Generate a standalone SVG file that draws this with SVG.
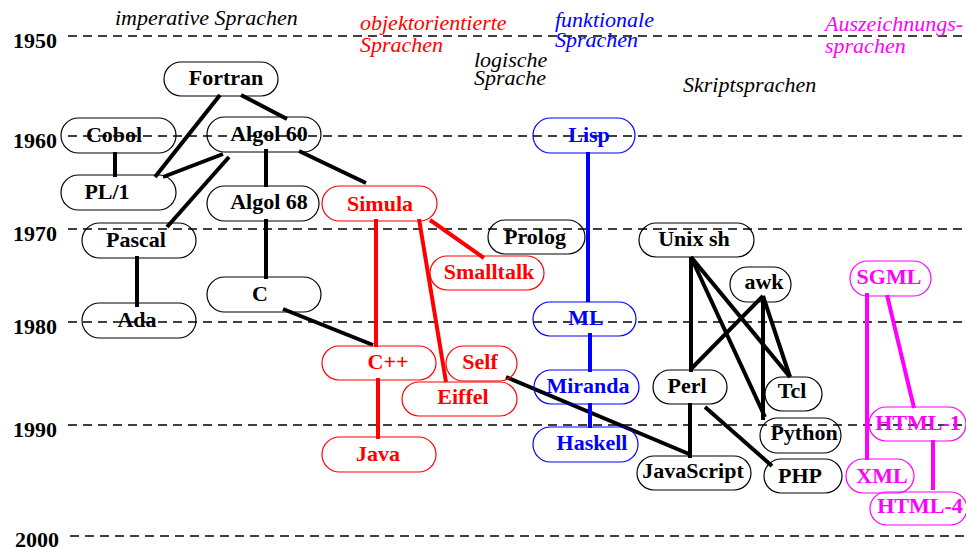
<svg xmlns="http://www.w3.org/2000/svg" width="966" height="548" viewBox="0 0 966 548">
<style>
.grid line{stroke:#000;stroke-width:1.3;stroke-dasharray:9 6}
.yr{font:bold 22px "Liberation Serif",serif;fill:#000}
.hd{font:italic 22px "Liberation Serif",serif}
.n rect{fill:none;stroke-width:1.2}
.n text{font:bold 22px "Liberation Serif",serif;text-anchor:middle}
.k rect{stroke:#000}.k text{fill:#000}
.r rect{stroke:#f00}.r text{fill:#f00}
.b rect{stroke:#00f}.b text{fill:#00f}
.m rect{stroke:#f0f}.m text{fill:#f0f}
.c line{stroke-width:4}
.ck line{stroke:#000}.cr line{stroke:#f00}.cb line{stroke:#00f}.cm line{stroke:#f0f}
</style>
<rect width="966" height="548" fill="#fff"/>
<g class="grid">
<line x1="68" y1="36" x2="966" y2="36"/>
<line x1="68" y1="136" x2="966" y2="136"/>
<line x1="68" y1="229" x2="966" y2="229"/>
<line x1="68" y1="322" x2="966" y2="322"/>
<line x1="68" y1="425" x2="966" y2="425"/>
<line x1="70" y1="536" x2="966" y2="536"/>
</g>
<g id="years">
<text class="yr" x="13" y="48">1950</text>
<text class="yr" x="13" y="148">1960</text>
<text class="yr" x="13" y="241">1970</text>
<text class="yr" x="13" y="334">1980</text>
<text class="yr" x="13" y="437">1990</text>
<text class="yr" x="15" y="547">2000</text>
</g>
<g id="headings">
<text class="hd" x="115" y="25" fill="#000">imperative Sprachen</text>
<text class="hd" x="360" y="30" fill="#f00">objektorientierte</text>
<text class="hd" x="360" y="52" fill="#f00">Sprachen</text>
<text class="hd" x="474" y="67" fill="#000">logische</text>
<text class="hd" x="474" y="85" fill="#000">Sprache</text>
<text class="hd" x="555" y="27" fill="#00f">funktionale</text>
<text class="hd" x="555" y="47" fill="#00f">Sprachen</text>
<text class="hd" x="683" y="92" fill="#000">Skriptsprachen</text>
<text class="hd" x="825" y="31" fill="#f0f">Auszeichnungs-</text>
<text class="hd" x="825" y="53" fill="#f0f">sprachen</text>
</g>
<g id="connectors" class="c">
<g class="ck">
<line x1="220" y1="95" x2="155" y2="177"/>
<line x1="241" y1="95" x2="287" y2="119"/>
<line x1="115" y1="152" x2="115" y2="177"/>
<line x1="223" y1="154" x2="163" y2="177"/>
<line x1="229" y1="157" x2="167" y2="227"/>
<line x1="266" y1="149" x2="266" y2="187"/>
<line x1="299" y1="151" x2="366" y2="183"/>
<line x1="266" y1="219" x2="266" y2="279"/>
<line x1="137" y1="256" x2="137" y2="307"/>
<line x1="283" y1="309" x2="373" y2="345"/>
<line x1="506" y1="377" x2="689" y2="454"/>
<line x1="691" y1="257" x2="691" y2="372"/>
<line x1="691" y1="257" x2="790" y2="377"/>
<line x1="691" y1="257" x2="765" y2="417"/>
<line x1="763" y1="296" x2="691" y2="369"/>
<line x1="763" y1="296" x2="790" y2="377"/>
<line x1="763" y1="296" x2="763" y2="420"/>
<line x1="690" y1="403" x2="690" y2="458"/>
<line x1="705" y1="407" x2="772" y2="466"/>
</g>
<g class="cr">
<line x1="376" y1="219" x2="376" y2="347"/>
<line x1="378" y1="378" x2="378" y2="439"/>
<line x1="419" y1="219" x2="446" y2="382"/>
<line x1="430" y1="220" x2="484" y2="258"/>
</g>
<g class="cb">
<line x1="588" y1="152" x2="588" y2="302"/>
<line x1="590" y1="333" x2="590" y2="372"/>
<line x1="590" y1="403" x2="590" y2="428"/>
</g>
<g class="cm">
<line x1="867" y1="293" x2="867" y2="460"/>
<line x1="887" y1="295" x2="914" y2="408"/>
<line x1="933" y1="440" x2="933" y2="490"/>
</g>
</g>
<g id="fortran" class="n k"><rect x="164" y="62" width="114" height="34" rx="17"/><text x="226" y="85">Fortran</text></g>
<g id="cobol" class="n k"><rect x="61" y="118" width="115" height="35" rx="17.5"/><text x="114" y="142">Cobol</text></g>
<g id="algol60" class="n k"><rect x="207" y="117" width="114" height="35" rx="17.5"/><text x="269" y="141">Algol 60</text></g>
<g id="pl1" class="n k"><rect x="61" y="175" width="115" height="35" rx="17.5"/><text x="107" y="199">PL/1</text></g>
<g id="algol68" class="n k"><rect x="207" y="186" width="112" height="35" rx="17.5"/><text x="269" y="209">Algol 68</text></g>
<g id="pascal" class="n k"><rect x="82" y="223" width="114" height="35" rx="17.5"/><text x="136" y="247">Pascal</text></g>
<g id="c" class="n k"><rect x="207" y="277" width="114" height="35" rx="17.5"/><text x="260" y="301">C</text></g>
<g id="ada" class="n k"><rect x="82" y="303" width="114" height="35" rx="17.5"/><text x="137" y="327">Ada</text></g>
<g id="simula" class="n r"><rect x="322" y="186" width="115" height="35" rx="17.5"/><text x="380" y="211">Simula</text></g>
<g id="smalltalk" class="n r"><rect x="430" y="256" width="114" height="34" rx="17"/><text x="489" y="279">Smalltalk</text></g>
<g id="cpp" class="n r"><rect x="322" y="346" width="114" height="34" rx="17"/><text x="388" y="369">C++</text></g>
<g id="self" class="n r"><rect x="446" y="346" width="71" height="35" rx="17.5"/><text x="480" y="369">Self</text></g>
<g id="eiffel" class="n r"><rect x="402" y="382" width="115" height="34" rx="17"/><text x="463" y="404">Eiffel</text></g>
<g id="java" class="n r"><rect x="322" y="437" width="114" height="35" rx="17.5"/><text x="378" y="461">Java</text></g>
<g id="prolog" class="n k"><rect x="488" y="220" width="97" height="34" rx="17"/><text x="535" y="244">Prolog</text></g>
<g id="lisp" class="n b"><rect x="533" y="118" width="102" height="35" rx="17.5"/><text x="589" y="142">Lisp</text></g>
<g id="ml" class="n b"><rect x="533" y="302" width="103" height="34" rx="17"/><text x="586" y="325">ML</text></g>
<g id="miranda" class="n b"><rect x="534" y="370" width="105" height="34" rx="17"/><text x="588" y="393">Miranda</text></g>
<g id="haskell" class="n b"><rect x="533" y="427" width="105" height="35" rx="17.5"/><text x="592" y="450">Haskell</text></g>
<g id="unixsh" class="n k"><rect x="639" y="223" width="115" height="34" rx="17"/><text x="694" y="246">Unix sh</text></g>
<g id="awk" class="n k"><rect x="730" y="267" width="61" height="35" rx="17.5"/><text x="764" y="289">awk</text></g>
<g id="perl" class="n k"><rect x="653" y="370" width="74" height="34" rx="17"/><text x="687" y="393">Perl</text></g>
<g id="tcl" class="n k"><rect x="765" y="377" width="57" height="34" rx="17"/><text x="792" y="398">Tcl</text></g>
<g id="python" class="n k"><rect x="760" y="418" width="81" height="35" rx="17.5"/><text x="804" y="440">Python</text></g>
<g id="javascript" class="n k"><rect x="637" y="456" width="114" height="34" rx="17"/><text x="693" y="478">JavaScript</text></g>
<g id="php" class="n k"><rect x="764" y="459" width="78" height="34" rx="17"/><text x="800" y="483">PHP</text></g>
<g id="sgml" class="n m"><rect x="850" y="261" width="81" height="35" rx="17.5"/><text x="889" y="284">SGML</text></g>
<g id="html1" class="n m"><rect x="869" y="407" width="97" height="34" rx="17"/><text x="918" y="430">HTML-1</text></g>
<g id="xml" class="n m"><rect x="846" y="459" width="68" height="34" rx="17"/><text x="882" y="483">XML</text></g>
<g id="html4" class="n m"><rect x="870" y="492" width="97" height="33" rx="16.5"/><text x="920" y="513">HTML-4</text></g>
</svg>
